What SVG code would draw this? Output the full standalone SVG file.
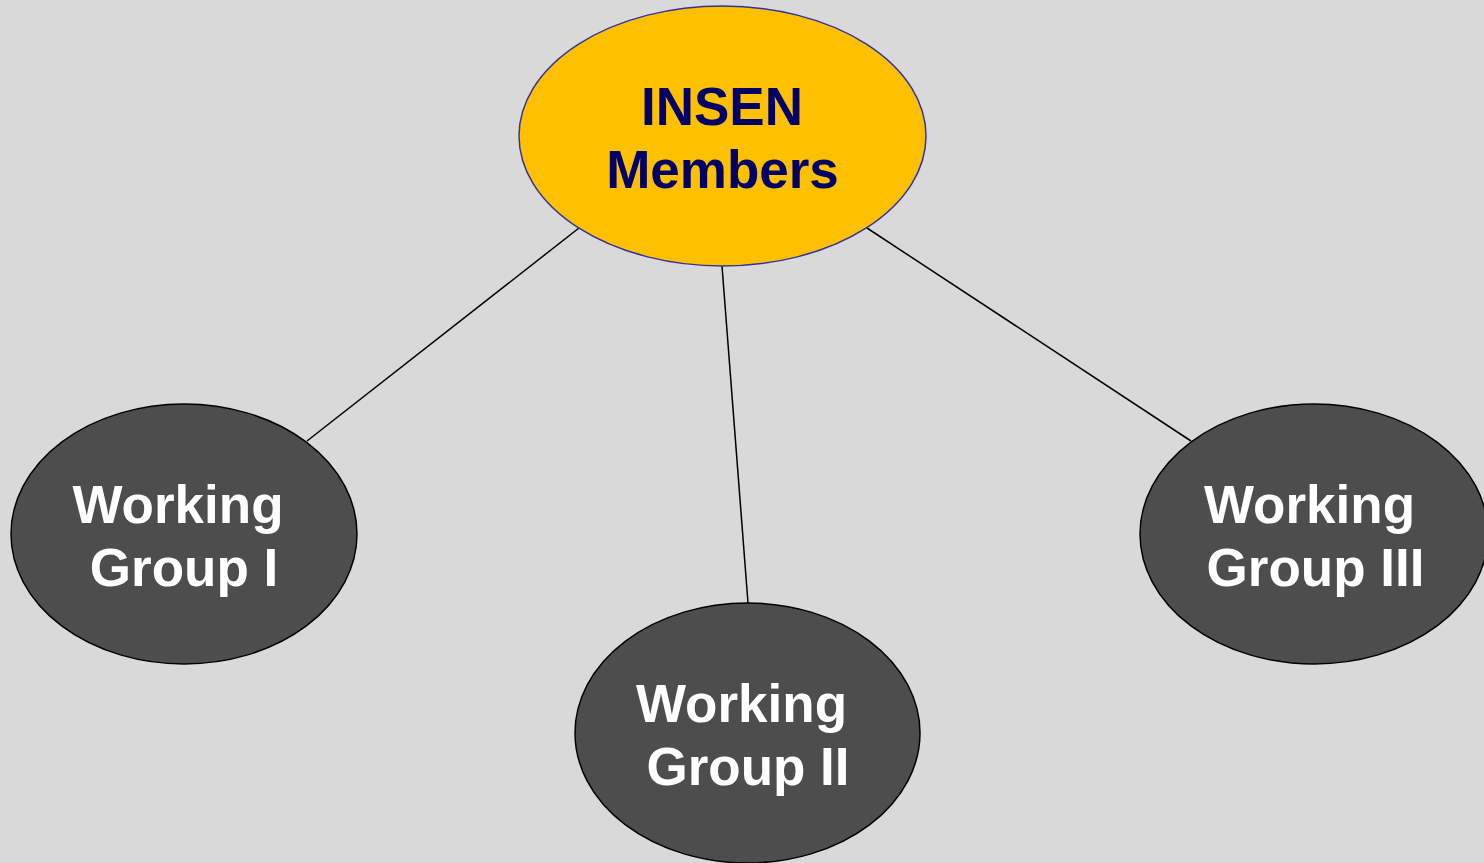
<svg xmlns="http://www.w3.org/2000/svg" width="1484" height="863" viewBox="0 0 1484 863">
<style>
.wg{fill:#4D4D4D;stroke:#000;stroke-width:1.5}
.top{fill:#FFC000;stroke:#3333A0;stroke-width:1.5}
.t{font-family:"Liberation Sans",Arial,sans-serif;font-weight:bold;font-size:53px;text-anchor:middle}
.tw{fill:#FFFFFF}
.tn{fill:#000066}
.c line{stroke:#000;stroke-width:1.5}
</style>
<rect width="1484" height="863" fill="#D9D9D9"/>
<g class="c" id="connectors">
<line x1="579" y1="228" x2="307" y2="441"/>
<line x1="722" y1="266" x2="748" y2="603"/>
<line x1="867" y1="228" x2="1191" y2="441"/>
</g>
<g id="insen">
<ellipse class="top" cx="722.5" cy="136" rx="203.5" ry="130"/>
<text class="t tn" x="722" y="125">INSEN</text>
<text class="t tn" x="722.5" y="188">Members</text>
</g>
<g id="wg1">
<ellipse class="wg" cx="184" cy="534" rx="173" ry="130"/>
<text class="t tw" x="178" y="523">Working</text>
<text class="t tw" x="184" y="586">Group I</text>
</g>
<g id="wg2">
<ellipse class="wg" cx="747.5" cy="733" rx="172.5" ry="130"/>
<text class="t tw" x="741.5" y="722">Working</text>
<text class="t tw" x="748" y="785">Group II</text>
</g>
<g id="wg3">
<ellipse class="wg" cx="1314" cy="534" rx="174" ry="130"/>
<text class="t tw" x="1309.5" y="523">Working</text>
<text class="t tw" x="1315.5" y="586">Group III</text>
</g>
</svg>
